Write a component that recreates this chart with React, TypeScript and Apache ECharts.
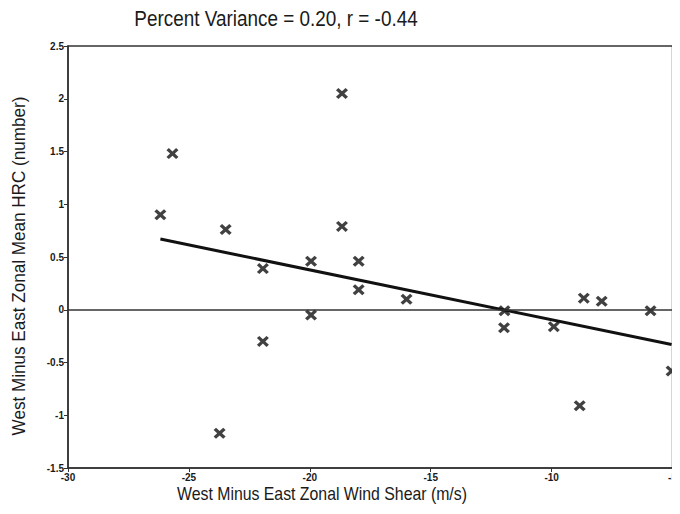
import React, { useEffect, useRef } from "react";
import * as echarts from "echarts";

// Wind shear (m/s) against HRC difference (number)
const shear = [
  -26.18, -25.68, -23.48, -21.94, -21.94, -23.73, -19.95, -19.95, -18.67, -18.67,
  -17.98, -17.98, -16.0, -11.95, -11.97, -9.91, -8.67, -7.93, -5.91, -8.84, -5.04,
];
const hrc = [
  0.9, 1.48, 0.76, 0.39, -0.3, -1.17, 0.46, -0.05, 2.05, 0.79,
  0.46, 0.19, 0.1, -0.01, -0.17, -0.16, 0.11, 0.08, -0.01, -0.91, -0.58,
];

// Least-squares fit endpoints
const fitX = [-26.18, -5.04];
const fitY = [0.67, -0.33];

const xTicks = { min: -30, max: -5, interval: 5 };
const yTicks = { min: -1.5, max: 2.5, interval: 0.5 };

const titleText = "Percent Variance = 0.20, r = -0.44";
const xName = "West Minus East Zonal Wind Shear (m/s)";
const yName = "West Minus East Zonal Mean HRC (number)";

const crossPath =
  "path://M0,2L2,0L5,3L8,0L10,2L7,5L10,8L8,10L5,7L2,10L0,8L3,5Z";

const FONT = "'Liberation Sans', Arial, sans-serif";

export default function App() {
  const ref = useRef<HTMLDivElement>(null);

  useEffect(() => {
    if (!ref.current) return;
    const chart = echarts.init(ref.current, undefined, { renderer: "svg" });
    const ink = "#1a1a1a";
    const tickLabel = { color: ink, fontSize: 10, fontWeight: "bold" as const, fontFamily: FONT };

    chart.setOption({
      animation: false,
      backgroundColor: "#ffffff",
      graphic: [
        {
          type: "text",
          x: 276,
          y: 18,
          scaleX: 0.86,
          style: {
            text: titleText,
            fill: ink,
            font: `22px ${FONT}`,
            textAlign: "center",
            textVerticalAlign: "middle",
          },
        },
        {
          type: "text",
          x: 322,
          y: 494,
          scaleX: 0.88,
          style: {
            text: xName,
            fill: ink,
            font: `18px ${FONT}`,
            textAlign: "center",
            textVerticalAlign: "middle",
          },
        },
        {
          type: "text",
          x: 19,
          y: 266,
          rotation: Math.PI / 2,
          scaleX: 0.95,
          style: {
            text: yName,
            fill: ink,
            font: `18px ${FONT}`,
            textAlign: "center",
            textVerticalAlign: "middle",
          },
        },
      ],
      grid: {
        left: 68,
        top: 46,
        right: 6,
        bottom: 46,
        show: true,
        borderColor: "#333",
        borderWidth: 1.5,
      },
      xAxis: {
        type: "value",
        ...xTicks,
        axisLine: { show: true, onZero: false, lineStyle: { color: "#333", width: 1.5 } },
        axisTick: { show: true, length: 4, lineStyle: { color: "#333" } },
        axisLabel: { ...tickLabel, margin: 4 },
        splitLine: { show: false },
      },
      yAxis: {
        type: "value",
        ...yTicks,
        axisLine: { show: true, onZero: false, lineStyle: { color: "#333", width: 1.5 } },
        axisTick: { show: true, length: 4, lineStyle: { color: "#333" } },
        axisLabel: { ...tickLabel, margin: 4 },
        splitLine: { show: false },
      },
      series: [
        {
          type: "scatter",
          data: shear.map((x, i) => [x, hrc[i]]),
          symbol: crossPath,
          symbolSize: [12, 11],
          itemStyle: { color: "#111" },
          markLine: {
            silent: true,
            symbol: "none",
            label: { show: false },
            lineStyle: { color: "#333", width: 1.5, type: "solid" },
            data: [{ yAxis: 0 }],
          },
        },
        {
          type: "line",
          data: fitX.map((x, i) => [x, fitY[i]]),
          showSymbol: false,
          symbol: "none",
          lineStyle: { color: "#111", width: 3 },
        },
      ],
    });

    return () => chart.dispose();
  }, []);

  return <div ref={ref} style={{ width: 680, height: 514, margin: -8 }} />;
}
